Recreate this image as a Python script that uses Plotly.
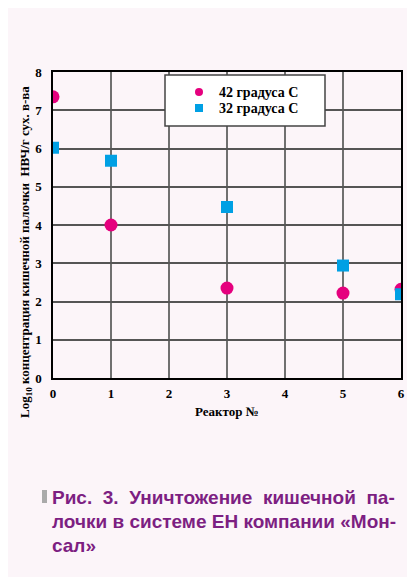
import plotly.graph_objects as go

reactors = [0, 1, 3, 5, 6]
temp42 = [7.35, 4.0, 2.35, 2.22, 2.32]
temp32 = [6.02, 5.68, 4.47, 2.94, 2.19]
series_names = ["42 градуса С", "32 градуса С"]
series_colors = ["#e5007e", "#00a0e4"]
x_ticks = [0, 1, 2, 3, 4, 5, 6]
y_ticks = [0, 1, 2, 3, 4, 5, 6, 7, 8]
x_title = "Реактор №"
y_title = "Log<sub>10</sub> концентрация кишечной палочки  НВЧ/г сух. в-ва"
caption_lines = ["Рис.  3.  Уничтожение  кишечной  па-",
                 "лочки в системе ЕН компании «Мон-",
                 "сал»"]

bg = "#fcf5f9"
serif = "Liberation Serif"
OFF = 8  # default body margin of the html page

L, T, PW, PH = 53 - OFF, 72 - OFF, 348, 306
W, H = 415 - OFF, 577 - OFF

def px(x):
    return (x - OFF - L) / PW

def py(y):
    return (T + PH - (y - OFF)) / PH

fig = go.Figure()
fig.add_trace(go.Scatter(x=reactors, y=temp42, mode="markers", name=series_names[0],
                         marker=dict(symbol="circle", size=13, color=series_colors[0], line=dict(width=0))))
fig.add_trace(go.Scatter(x=reactors, y=temp32, mode="markers", name=series_names[1],
                         marker=dict(symbol="square", size=12, color=series_colors[1], line=dict(width=0))))

tickfont = dict(family=serif, size=13, color="black", weight="bold")
fig.update_layout(
    width=W, height=H,
    margin=dict(l=L, r=W - L - PW, t=T, b=H - T - PH, autoexpand=False),
    paper_bgcolor=bg, plot_bgcolor=bg,
    showlegend=False,
    xaxis=dict(range=[0, 6], tickvals=x_ticks, showgrid=True, gridcolor="#707070", gridwidth=1.5,
               showline=True, linecolor="black", linewidth=1.5, mirror=True, zeroline=False,
               automargin=False, ticks="", ticklabelstandoff=3, tickfont=tickfont),
    yaxis=dict(range=[0, 8], tickvals=y_ticks, showgrid=True, gridcolor="#555555", gridwidth=1.5,
               showline=True, linecolor="black", linewidth=1.5, mirror=True, zeroline=False,
               automargin=False, ticks="", ticklabelstandoff=7, tickfont=tickfont),
)

# axis titles
fig.add_annotation(text=x_title, xref="paper", yref="paper", x=px(227), y=py(411),
                   xanchor="center", yanchor="middle", showarrow=False,
                   font=dict(family=serif, size=13, color="black", weight="bold"))
fig.add_annotation(text=y_title, xref="paper", yref="paper", x=px(25), y=py(252),
                   xanchor="center", yanchor="middle", showarrow=False, textangle=-90,
                   font=dict(family=serif, size=13, color="black", weight="bold"))

# legend box (manual)
fig.add_shape(type="rect", xref="paper", yref="paper", layer="above",
              x0=px(165), x1=px(325), y0=py(126), y1=py(75),
              fillcolor="white", line=dict(color="#444444", width=1.5))
leg_rows = [92, 108]
fig.add_shape(type="circle", xref="paper", yref="paper", layer="above",
              x0=px(195), x1=px(203), y0=py(leg_rows[0] + 4), y1=py(leg_rows[0] - 4),
              fillcolor=series_colors[0], line=dict(width=0))
fig.add_shape(type="rect", xref="paper", yref="paper", layer="above",
              x0=px(195), x1=px(203), y0=py(leg_rows[1] + 4), y1=py(leg_rows[1] - 4),
              fillcolor=series_colors[1], line=dict(width=0))
for name, yy in zip(series_names, leg_rows):
    fig.add_annotation(text=name, xref="paper", yref="paper", x=px(217), y=py(yy),
                       xanchor="left", yanchor="middle", showarrow=False,
                       font=dict(family=serif, size=14, color="black", weight="bold"))

# caption
ys = [497, 521, 545]
for line, yy in zip(caption_lines, ys):
    fig.add_annotation(text=line, xref="paper", yref="paper", x=px(50), y=py(yy),
                       xanchor="left", yanchor="middle", showarrow=False,
                       font=dict(family="Liberation Sans Narrow, Liberation Sans", size=19,
                                 color="#7d1f82", weight="bold"))
fig.add_shape(type="rect", xref="paper", yref="paper",
              x0=px(42), x1=px(47), y0=py(503), y1=py(490),
              fillcolor="#aaaaaa", line=dict(width=0))

fig.write_html("out.html")
